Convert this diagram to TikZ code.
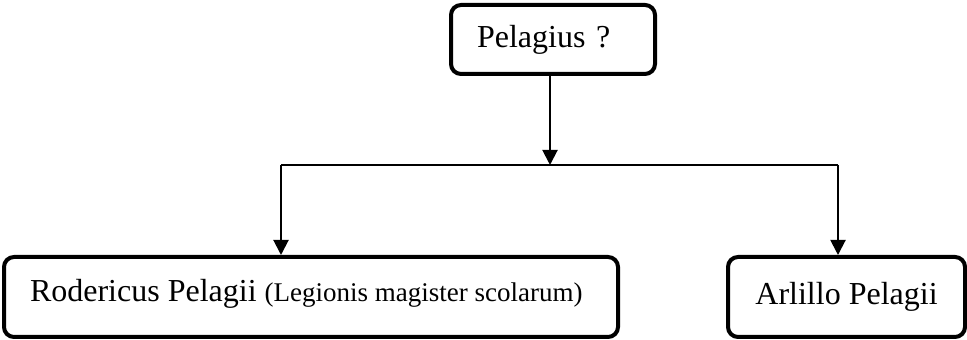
\documentclass[tikz,border=0pt]{standalone}
\usepackage{fontspec}
\setmainfont{Liberation Serif}
\usepackage{tikz}
\usetikzlibrary{arrows.meta,positioning}

\begin{document}
\begin{tikzpicture}[>={Triangle[length=7.5pt,width=7.5pt]},
    box/.style={draw,line width=2pt,rounded corners=5pt,font=\fontsize{16}{19}\selectfont},
    link/.style={->,line width=1pt}]
    \useasboundingbox (0pt,0pt) rectangle (483.5pt,170pt);
    \node[box,text width=76pt,inner xsep=13pt,align=left,minimum height=34.5pt]
        (pelagius) at (276.5pt,150.25pt) {Pelagius ?};
    \node[box,text width=281pt,inner xsep=13pt,align=flush left,inner ysep=5pt,
          text height=17.5pt,text depth=12.5pt]
        (rodericus) at (155.5pt,21.5pt)
        {\mbox{Rodericus Pelagii {\fontsize{13.5}{16}\selectfont(Legionis magister scolarum)}}};
    \node[box,minimum width=118.5pt,minimum height=40pt]
        (arlillo) at (423.25pt,21.5pt) {Arlillo Pelagii};
    \coordinate (split) at (275pt,87.5pt);
    \coordinate (lsplit) at (140.5pt,87.5pt);
    \coordinate (rsplit) at (419pt,87.5pt);
    \draw[link] (pelagius.south -| split)--(split);
    \draw[line width=0.7pt] (lsplit)--(rsplit);
    \draw[link] (lsplit)--(lsplit |- rodericus.north);
    \draw[link] (rsplit)--(rsplit |- arlillo.north);
\end{tikzpicture}
\end{document}
